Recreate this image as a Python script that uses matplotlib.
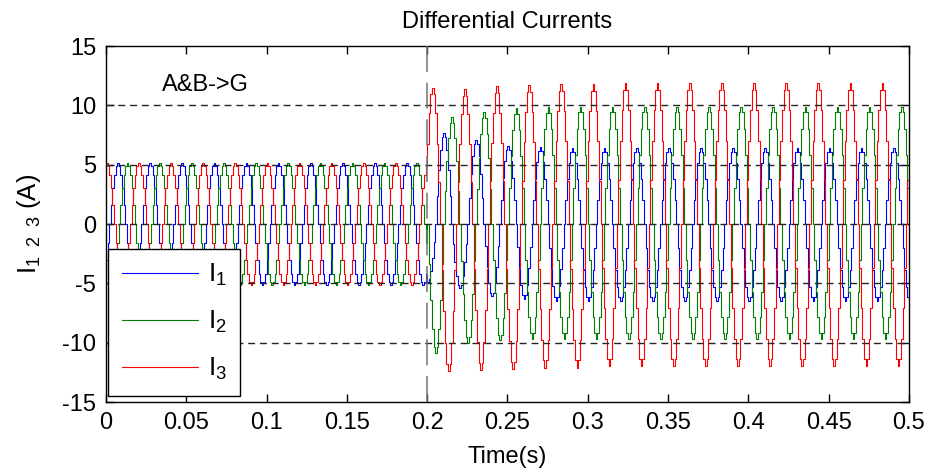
import numpy as np
import matplotlib

matplotlib.use("Agg")
import matplotlib.pyplot as plt  # noqa: E402

plt.rcParams["font.family"] = ["Liberation Sans", "DejaVu Sans"]
plt.rcParams["mathtext.fontset"] = "custom"
plt.rcParams["mathtext.rm"] = "Liberation Sans"
plt.rcParams["mathtext.it"] = "Liberation Sans"
plt.rcParams["mathtext.default"] = "regular"
plt.rcParams["axes.unicode_minus"] = False

# sampled at 1 kHz, 50 Hz system -> 20 samples per cycle, fault at 0.2 s
DT = 0.001
N_SAMPLES = 501
FAULT_IDX = 200

# one cycle of the sampled waveform, normalised, starting at the peak
CYCLE = [1.0, 0.95, 0.81, 0.59, 0.31, 0.0, -0.31, -0.59, -0.81, -0.95,
         -1.0, -0.95, -0.81, -0.59, -0.31, 0.0, 0.31, 0.59, 0.81, 0.95]

labels = ["I$_1$", "I$_2$", "I$_3$"]
colors = ["#0000ff", "#008000", "#ff0000"]

# pre-fault: amplitude and sample offset of first peak
pre_amp = [5.15, 5.15, 5.15]
pre_offset = [7, 13, 0]

# post-fault: sample offset (after 0.2 s) of first extreme, then extremes in time order
post_offset = [0, 5, 3]
post_i1 = [-4.9, 7.7, -5.4, 7.1, -6.1, 6.6, -6.3, 6.5, -6.45, 6.4, -6.5, 6.4,
           -6.5, 6.4, -6.5, 6.4, -6.5, 6.4, -6.5, 6.4, -6.5, 6.4, -6.5, 6.4,
           -6.5, 6.4, -6.5, 6.4, -6.5, 6.4, -6.5]
post_i2 = [-10.9, 9.0, -10.0, 9.4, -9.8, 9.75, -9.7, 9.85, -9.65, 9.9, -9.65, 9.9,
           -9.65, 9.9, -9.65, 9.9, -9.65, 9.9, -9.65, 9.9, -9.65, 9.9, -9.65, 9.9,
           -9.65, 9.9, -9.65, 9.9, -9.65, 9.9, -9.65]
post_i3 = [11.5, -12.4, 11.4, -12.3, 11.6, -12.2, 11.7, -12.1, 11.8, -12.1, 11.8,
           -12.0, 11.9, -12.0, 11.9, -12.0, 11.9, -12.0, 11.9, -12.0, 11.9, -12.0,
           11.9, -12.0, 11.9, -12.0, 11.9, -12.0, 11.9, -12.0, 11.9]
post_extremes = [post_i1, post_i2, post_i3]

grid_y = [-10, -5, 0, 5, 10]
fault_t = 0.2


def build(p_amp, p_off, q_off, extremes):
    cyc = np.array(CYCLE)
    ext = np.array(extremes)
    n = np.arange(N_SAMPLES)
    y = np.empty(N_SAMPLES)
    pre = n < FAULT_IDX
    y[pre] = cyc[(n[pre] - p_off) % 20] * p_amp
    k = n[~pre] - FAULT_IDX - q_off
    i = np.clip(np.floor(k / 10 + 0.5).astype(int), 0, len(ext) - 1)
    y[~pre] = np.abs(cyc[k % 20]) * ext[i]
    return y


t = np.arange(N_SAMPLES) * DT

fig = plt.figure(figsize=(9.32, 4.73), dpi=100)
ax = fig.add_axes([0.1137, 0.150, 0.8616, 0.7527])

handles = []
for j in range(3):
    y = build(pre_amp[j], pre_offset[j], post_offset[j], post_extremes[j])
    h, = ax.plot(t, y, drawstyle="steps-post", color=colors[j], lw=0.8,
                 label=labels[j])
    handles.append(h)

for g in grid_y:
    ax.axhline(g, color="0.15", lw=1.0, ls=(0, (5, 3.5)), zorder=3)
ax.axvline(fault_t, color="0.45", lw=1.1, ls=(0, (17, 7)), zorder=3)

ax.set_xlim(0, 0.5)
ax.set_ylim(-15, 15)
ax.set_xticks(np.arange(0, 0.51, 0.05))
ax.set_xticklabels(["0", "0.05", "0.1", "0.15", "0.2", "0.25", "0.3", "0.35",
                    "0.4", "0.45", "0.5"])
ax.set_yticks([-15, -10, -5, 0, 5, 10, 15])
ax.tick_params(direction="in", top=True, right=True, length=6, width=1,
               labelsize=17, pad=7)
for s in ax.spines.values():
    s.set_linewidth(1.0)

ax.set_title("Differential Currents", fontsize=17, pad=13)
ax.set_xlabel("Time(s)", fontsize=17, labelpad=9)
ax.set_ylabel("I$_{1\\ \\ 2\\ \\ 3}$ (A)", fontsize=18.5, labelpad=14)
ax.text(0.035, 11.7, "A&B->G", fontsize=17, ha="left", va="center")

leg = ax.legend(handles=handles, loc="lower left", bbox_to_anchor=(0.003, 0.018),
                borderaxespad=0, fontsize=19, handlelength=2.9,
                handletextpad=0.38, labelspacing=0.79, borderpad=0.5,
                fancybox=False, framealpha=1, edgecolor="black")
leg.get_frame().set_linewidth(1.0)
leg.set_zorder(5)

fig.savefig("out.png", dpi=100)
